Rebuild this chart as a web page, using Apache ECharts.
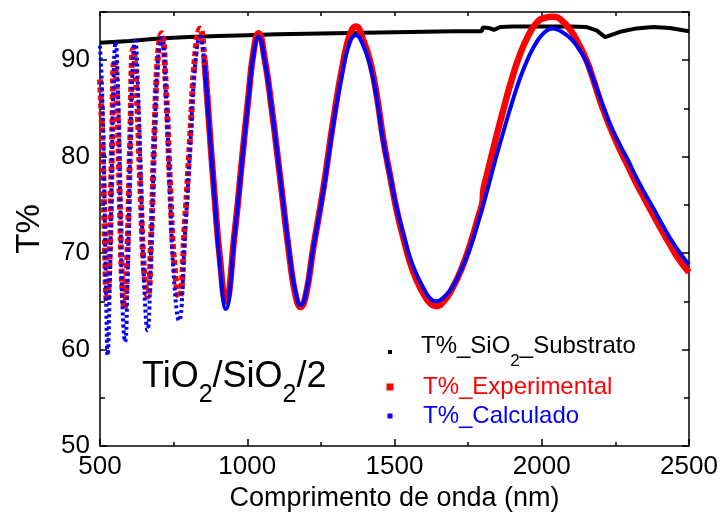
<!DOCTYPE html>
<html><head><meta charset="utf-8">
<script src="https://cdn.jsdelivr.net/npm/echarts@6/dist/echarts.min.js"></script>
<style>html,body{margin:0;padding:0;background:#fff}#c{width:723px;height:523px}</style>
</head><body><div id="c"></div>
<script>
// ---- data ----
const seriesNames = ['T%_SiO2_Substrato', 'T%_Experimental', 'T%_Calculado'];
const xTickValues = [500, 1000, 1500, 2000, 2500];
const yTickValues = [50, 60, 70, 80, 90];

const subX = [500,600,700,800,900,1000,1100,1200,1300,1400,1500,1600,1700,1796,1800,1820,1838,1860,1900,2000,2100,2150,2186,2215,2266,2322,2378,2435,2480,2500];
const subY = [91.8,92.0,92.25,92.4,92.5,92.6,92.7,92.75,92.8,92.85,92.9,92.95,93.0,93.0,93.4,93.35,93.15,93.45,93.5,93.5,93.5,93.45,93.1,92.4,92.95,93.3,93.45,93.35,93.1,93.0];

const expX = [500,508,516,524,532,540,549,558,567,575,583,593,602,613,624,637,650,662,674,686,698,709,724,738,752,769,789,806,823,840,855,868,890,907,927,958,981,1004,1021,1038,1060,1083,1111,1145,1165,1181,1200,1224,1258,1292,1326,1350,1369,1390,1417,1440,1462,1485,1507,1530,1553,1575,1598,1621,1641,1670,1699,1728,1756,1785,1799,1801,1813,1841,1869,1898,1926,1955,1983,2010,2038,2065,2100,2125,2152,2175,2198,2210,2230,2266,2295,2322,2350,2378,2405,2435,2465,2500];
const expY = [88.0,82,72,65.0,69,80,90.0,86,76,67,64.3,70,81,91.2,87,77,68,65.5,72,83.5,91,92.8,87,77,69,65.4,73.5,82,90.5,93.3,90,84.5,75.5,69.5,65.0,72.3,79.3,86.2,90.8,92.8,90,85,78,69.3,65.5,64.4,65.8,70.5,76.6,83.7,89.8,92.8,93.5,92.4,89.9,86.3,81.8,78,74.5,71.6,69,67.2,65.8,64.8,64.5,65.1,66.5,68.4,70.8,73.8,75.4,76.4,78,81.5,84.8,88,90.6,92.6,93.9,94.4,94.5,94.2,93.0,91.7,90.0,88.0,85.8,84.8,83.2,80.7,78.9,77.2,75.6,74.0,72.5,70.9,69.4,68.0];

const calcX = [500,508,516,521,526,532,539,546,553,561,569,577,585,594,602,611,619,629,640,651,661,673,686,698,710,724,738,752,768,789,806,823,840,855,868,890,907,927,958,981,1004,1021,1038,1060,1083,1111,1145,1165,1181,1200,1224,1258,1292,1326,1350,1369,1390,1417,1440,1462,1485,1507,1530,1553,1575,1598,1621,1641,1670,1699,1728,1756,1785,1813,1841,1869,1898,1926,1955,1983,2010,2038,2065,2100,2125,2152,2175,2198,2230,2266,2295,2322,2350,2378,2405,2435,2465,2500];
const calcY = [91.5,86,74,65,59.4,65,77,88,91.9,87,75,64,60.8,68,80,89.5,92.0,87,76,66,62.0,70,83,90.5,92.3,86.5,76,67,63.0,72.2,80.9,89.5,92.4,89.5,84.3,75.3,68.8,64.2,72.2,79.1,86.0,90.5,92.4,89.8,85,78,69.5,65.8,64.6,66,70.5,76.4,83.3,89.2,92,92.6,91.8,89.5,86,81.5,78,74.7,72,69.5,67.8,66.4,65.3,65.0,65.5,66.6,68.4,70.5,73.3,76.3,79.5,82.5,85.5,88.1,90.3,91.9,92.9,93.3,93.0,92.2,91.2,89.8,88.0,86.1,83.5,81.2,79.5,77.8,76.2,74.7,73.2,71.6,70.2,68.8];

// ---- build chart ----
const FONT = 'Liberation Sans, Arial, sans-serif';
const zip = (xs, ys) => xs.map((x, i) => [x, ys[i]]);
// short-wavelength part drawn dotted (sparse samples); the two parts overlap slightly
const low = d => d.filter(p => p[0] <= 868);
const high = d => d.filter(p => p[0] >= 855);
const sub = zip(subX, subY), exp = zip(expX, expY), calc = zip(calcX, calcY);

const axisLine = {show: true, onZero: false, lineStyle: {color: '#000', width: 1.5}};
const tickStyle = {color: '#000', width: 1.5};
const plain = v => String(v);

const chart = echarts.init(document.getElementById('c'), null, {renderer: 'canvas'});
chart.setOption({
  animation: false,
  backgroundColor: '#fff',
  textStyle: {fontFamily: FONT},
  grid: {left: 100, right: 34, top: 12, bottom: 77},
  xAxis: [{
    type: 'value', min: xTickValues[0], max: xTickValues[xTickValues.length - 1],
    interval: xTickValues[1] - xTickValues[0], position: 'bottom',
    axisLine, splitLine: {show: false},
    axisTick: {inside: true, length: 7, lineStyle: tickStyle},
    minorTick: {show: true, splitNumber: 2, length: 4, lineStyle: tickStyle},
    axisLabel: {fontSize: 26, color: '#000', fontFamily: FONT, margin: 8, formatter: plain},
    name: 'Comprimento de onda (nm)', nameLocation: 'middle', nameGap: 36,
    nameTextStyle: {fontSize: 27, color: '#000', fontFamily: FONT}
  }, {
    type: 'value', min: 500, max: 2500, interval: 250, position: 'top',
    axisLine, splitLine: {show: false},
    axisTick: {inside: true, length: 4, lineStyle: tickStyle},
    axisLabel: {show: false}
  }],
  yAxis: [{
    type: 'value', min: yTickValues[0], max: 95, interval: yTickValues[1] - yTickValues[0],
    position: 'left', axisLine, splitLine: {show: false},
    axisTick: {inside: true, length: 7, lineStyle: tickStyle},
    minorTick: {show: true, splitNumber: 2, length: 5, lineStyle: tickStyle},
    axisLabel: {fontSize: 26, color: '#000', fontFamily: FONT, margin: 10, showMaxLabel: false, formatter: plain},
    name: 'T%', nameLocation: 'middle', nameGap: 54, nameRotate: 90,
    nameTextStyle: {fontSize: 33, color: '#000', fontFamily: FONT}
  }, {
    type: 'value', min: 50, max: 95, interval: 10, position: 'right',
    axisLine, splitLine: {show: false},
    axisTick: {inside: true, length: 7, lineStyle: tickStyle},
    minorTick: {show: true, splitNumber: 2, length: 5, lineStyle: tickStyle},
    axisLabel: {show: false}
  }],
  legend: [
    {data: [{name: seriesNames[0], icon: 'rect'}], left: 388, top: 334, padding: 0,
     itemWidth: 4, itemHeight: 4, selectedMode: false,
     formatter: '{g| }{k|T%_SiO}{s|2}{k|_Substrato}',
     textStyle: {color: '#000', fontSize: 24, fontFamily: FONT, rich: {
       g: {width: 24, fontSize: 24},
       k: {fontSize: 24, lineHeight: 36, verticalAlign: 'top', color: '#000', fontFamily: FONT},
       s: {fontSize: 17, lineHeight: 17, verticalAlign: 'top', padding: [19, 0, 0, 0], color: '#000', fontFamily: FONT}
     }}},
    {data: [{name: seriesNames[1], icon: 'rect'}], left: 386.5, top: 375, padding: 0,
     itemWidth: 7, itemHeight: 7, selectedMode: false,
     formatter: '{g| }{r|{name}}',
     textStyle: {color: '#ff0000', fontSize: 24, fontFamily: FONT, rich: {
       g: {width: 24.5, fontSize: 24},
       r: {fontSize: 24, lineHeight: 28, color: '#ff0000', fontFamily: FONT}
     }}},
    {data: [{name: seriesNames[2], icon: 'rect'}], left: 387.5, top: 404, padding: 0,
     itemWidth: 5, itemHeight: 5, selectedMode: false,
     formatter: '{g| }{b|{name}}',
     textStyle: {color: '#0000ff', fontSize: 24, fontFamily: FONT, rich: {
       g: {width: 25.5, fontSize: 24},
       b: {fontSize: 24, lineHeight: 28, color: '#0000ff', fontFamily: FONT}
     }}}
  ],
  graphic: [{
    type: 'text', x: 142, y: 359, z: 10,
    style: {
      text: '{a|TiO}{b|2}{a|/SiO}{b|2}{a|/2}',
      verticalAlign: 'top', align: 'left', fill: '#000',
      rich: {
        a: {fontSize: 36, lineHeight: 40, verticalAlign: 'top', fill: '#000', fontFamily: FONT},
        b: {fontSize: 25, lineHeight: 25, verticalAlign: 'top', padding: [24, 0, 0, 0], fill: '#000', fontFamily: FONT}
      }
    }
  }],
  series: [
    {name: seriesNames[0], type: 'line', data: sub, showSymbol: false, symbol: 'none',
     color: '#000', lineStyle: {color: '#000', width: 4}},
    {name: seriesNames[1], type: 'line', data: low(exp), showSymbol: false, symbol: 'none', smooth: 0.5,
     color: '#ff0000', lineStyle: {color: '#ff0000', width: 6, type: [5, 3]}},
    {name: seriesNames[1], type: 'line', data: high(exp), showSymbol: false, symbol: 'none', smooth: 0.5,
     color: '#ff0000', lineStyle: {color: '#ff0000', width: 6.5}},
    {name: seriesNames[2], type: 'line', data: low(calc), showSymbol: false, symbol: 'none', smooth: 0.5,
     color: '#0000ff', lineStyle: {color: '#0000ff', width: 4, type: [3, 3]}},
    {name: seriesNames[2], type: 'line', data: high(calc), showSymbol: false, symbol: 'none', smooth: 0.5,
     color: '#0000ff', lineStyle: {color: '#0000ff', width: 4}}
  ]
});
</script>
</body></html>
